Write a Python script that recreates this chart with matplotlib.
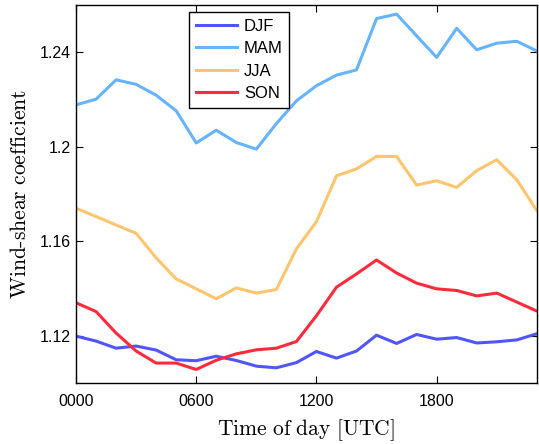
import matplotlib
matplotlib.use('Agg')
import matplotlib.pyplot as plt

plt.rcParams['mathtext.fontset'] = 'cm'
plt.rcParams['font.family'] = 'Liberation Sans'

hours = list(range(24))
tick_pos = [0, 6, 12, 18]
tick_labels = ['0000', '0600', '1200', '1800']

djf = [1.1199, 1.1178, 1.1148, 1.1157, 1.1140, 1.1099, 1.1095, 1.1114, 1.1096, 1.1072,
       1.1065, 1.1087, 1.1134, 1.1106, 1.1136, 1.1203, 1.1168, 1.1206, 1.1186, 1.1193,
       1.1170, 1.1175, 1.1183, 1.1209]
mam = [1.2177, 1.2201, 1.2283, 1.2264, 1.2218, 1.2152, 1.2016, 1.2070, 1.2018, 1.1990,
       1.2098, 1.2194, 1.2258, 1.2303, 1.2325, 1.2542, 1.2561, 1.2469, 1.2378, 1.2501,
       1.2410, 1.2438, 1.2446, 1.2405]
jja = [1.1740, 1.1705, 1.1669, 1.1634, 1.1530, 1.1441, 1.1399, 1.1357, 1.1403, 1.1381,
       1.1396, 1.1568, 1.1683, 1.1877, 1.1906, 1.1959, 1.1959, 1.1838, 1.1856, 1.1828,
       1.1899, 1.1945, 1.1860, 1.1730]
son = [1.1340, 1.1303, 1.1212, 1.1136, 1.1085, 1.1085, 1.1058, 1.1097, 1.1124, 1.1141,
       1.1148, 1.1176, 1.1285, 1.1406, 1.1462, 1.1521, 1.1466, 1.1423, 1.1399, 1.1392,
       1.1369, 1.1381, 1.1343, 1.1305]

series = [('DJF', djf, '#5055ff'), ('MAM', mam, '#66b3ff'),
          ('JJA', jja, '#ffc46e'), ('SON', son, '#ff2a3a')]

fig = plt.figure(figsize=(5.39, 4.44), dpi=100)
ax = fig.add_axes([0.141, 0.137, 0.855, 0.852])

for name, vals, col in series:
    ax.plot(hours, vals, color=col, lw=2.2, label=name)

ax.set_xlim(0, 23)
ax.set_ylim(1.10, 1.26)
ax.set_xticks(tick_pos)
ax.set_xticklabels(tick_labels)
ax.set_yticks([1.12, 1.16, 1.2, 1.24])
ax.set_yticklabels(['1.12', '1.16', '1.2', '1.24'])
ax.tick_params(direction='in', top=True, right=True, labelsize=11.5, length=5)
ax.tick_params(axis='y', pad=4)
ax.tick_params(axis='x', pad=8)
for s in ax.spines.values():
    s.set_linewidth(1.0)

ax.set_xlabel(r'$\mathrm{Time\ of\ day\ [UTC]}$', fontsize=15.5, labelpad=6)
ax.set_ylabel(r'$\mathrm{Wind\text{-}shear\ coefficient}$', fontsize=15.5, labelpad=6)

# legend box sits near top, a quarter of the way in
leg = ax.legend(loc='upper left', bbox_to_anchor=(0.245, 0.981), borderaxespad=0,
                fancybox=False, edgecolor='black', framealpha=1, fontsize=12,
                handlelength=2.5, handletextpad=0.4, labelspacing=0.45,
                borderpad=0.4)
leg.get_frame().set_linewidth(1.0)

fig.savefig('out.png', dpi=100)
